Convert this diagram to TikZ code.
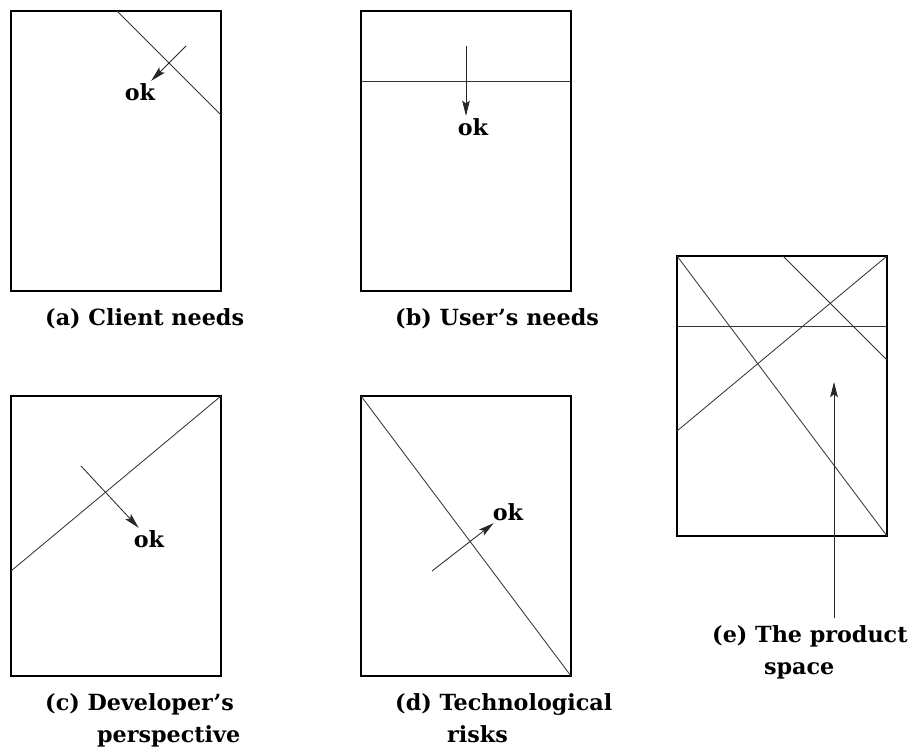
\documentclass[tikz,border=0pt]{standalone}
\usepackage{fontspec}
\setmainfont{DejaVu Serif}
\usetikzlibrary{arrows.meta}
\tikzset{
  panel/.style={draw, line width=1.6pt},
  cut/.style={line width=0.7pt, black!80},
  okarrow/.style={-{Stealth[length=13pt, width=6.5pt, inset=2.5pt]}, line width=0.7pt, black!85},
  oklabel/.style={font=\fontsize{19}{22}\selectfont\bfseries, inner sep=2pt},
  caption/.style={font=\fontsize{19}{27}\selectfont\bfseries, align=left,
                  anchor=base west, inner sep=0pt},
}

\begin{document}
\begin{tikzpicture}[x=0.03cm, y=-0.03cm]
  \useasboundingbox (0,0) rectangle (908,749);

  % (a) client needs
  \begin{scope}[shift={(11,11)}]
    \draw[panel] (0,0) rectangle (210,280);
    \draw[cut] (106,0) -- (210,104);
    \coordinate (taila) at (175,35);
    \node[oklabel] (oka) at (129,81) {ok};
    \draw[okarrow] (taila) -- (oka);
    \node[caption] (capa) at (34,314) {(a) Client needs};
  \end{scope}

  % (b) user's needs
  \begin{scope}[shift={(361,11)}]
    \draw[panel] (0,0) rectangle (210,280);
    \draw[cut] (0,70) -- (210,70);
    \coordinate (tailb) at (105,35);
    \node[oklabel] (okb) at (112,116) {ok};
    \draw[okarrow] (tailb) -- (tailb |- okb.north);
    \node[caption] (capb) at (34,314) {(b) User’s needs};
  \end{scope}

  % (c) developer's perspective
  \begin{scope}[shift={(11,396)}]
    \draw[panel] (0,0) rectangle (210,280);
    \draw[cut] (0,175) -- (210,0);
    \coordinate (tailc) at (70,70);
    \node[oklabel] (okc) at (138,143) {ok};
    \draw[okarrow] (tailc) -- (okc);
    \node[caption] (capc) at (34,346) {(c) Developer’s\\\hspace*{2.33em}perspective};
  \end{scope}

  % (d) technological risks
  \begin{scope}[shift={(361,396)}]
    \draw[panel] (0,0) rectangle (210,280);
    \draw[cut] (0,0) -- (210,280);
    \coordinate (taild) at (71,175);
    \node[oklabel] (okd) at (147,116) {ok};
    \draw[okarrow] (taild) -- (okd);
    \node[caption] (capd) at (34,346) {(d) Technological\\\hspace*{2.33em}risks};
  \end{scope}

  % (e) all four cuts together
  \begin{scope}[shift={(677,256)}]
    \draw[panel] (0,0) rectangle (210,280);
    \draw[cut] (106,0) -- (210,104);
    \draw[cut] (0,70) -- (210,70);
    \draw[cut] (0,175) -- (210,0);
    \draw[cut] (0,0) -- (210,280);
    \coordinate (tipe) at (157,126);
    \node[caption] (cape) at (35,418) {(e) The product\\\hspace*{2.33em}space};
    \draw[okarrow] ([yshift=6pt]cape.north -| tipe) -- (tipe);
  \end{scope}
\end{tikzpicture}
\end{document}
